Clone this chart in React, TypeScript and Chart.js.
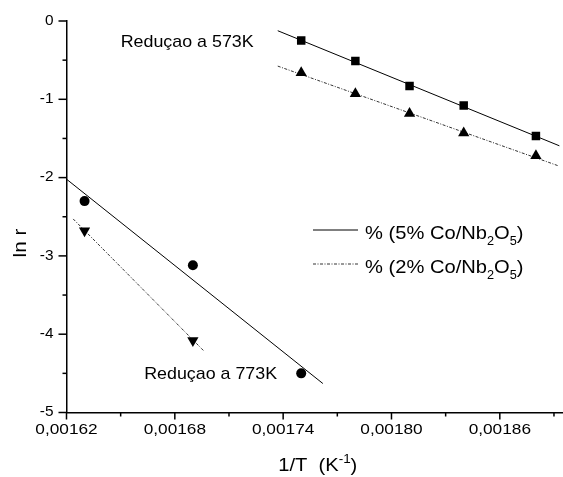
import React, { useEffect, useRef } from 'react';
import { Chart, registerables } from 'chart.js';
Chart.register(...registerables);

// ---- data ----
const invT573 = [0.00175, 0.00178, 0.00181, 0.00184, 0.00188];
const lnR573Co5 = [-0.25, -0.51, -0.83, -1.08, -1.47];
const lnR573Co2 = [-0.66, -0.93, -1.18, -1.43, -1.72];

const invT773Co5 = [0.00163, 0.00169, 0.00175];
const lnR773Co5 = [-2.3, -3.12, -4.5];
const invT773Co2 = [0.00163, 0.00169];
const lnR773Co2 = [-2.68, -4.08];

// linear fit lines (end points)
const fit573Co5X = [0.001737, 0.001893];
const fit573Co5Y = [-0.124, -1.594];
const fit573Co2X = [0.001737, 0.001892];
const fit573Co2Y = [-0.576, -1.846];
const fit773Co5X = [0.00162, 0.001762];
const fit773Co5Y = [-2.02, -4.63];
const fit773Co2X = [0.0016237, 0.001696];
const fit773Co2Y = [-2.528, -4.212];

// axes
const xMin = 0.00162;
const xMax = 0.001895;
const yMin = -5;
const yMax = 0;
const xMajorTicks = [0.00162, 0.00168, 0.00174, 0.0018, 0.00186];
const xTickLabels = ['0,00162', '0,00168', '0,00174', '0,00180', '0,00186'];
const xMinorTicks = [0.00165, 0.00171, 0.00177, 0.00183, 0.00189];
const yMajorTicks = [0, -1, -2, -3, -4, -5];
const yTickLabels = ['0', '-1', '-2', '-3', '-4', '-5'];
const yMinorTicks = [-0.5, -1.5, -2.5, -3.5, -4.5];

// annotations
const note573 = { text: 'Reduçao a 573K', x: 0.00165, y: -0.338 };
const note773 = { text: 'Reduçao a 773K', x: 0.001663, y: -4.578 };
const legendItems = [
  { pre: '% (5% Co/Nb', dash: [] as number[] },
  { pre: '% (2% Co/Nb', dash: [3, 1.5, 1, 1.5] },
];

const FONT = '"Liberation Sans", Arial, Helvetica, sans-serif';
const DOTTED = [3, 1.5, 1, 1.5];
const pts = (xs: number[], ys: number[]) => xs.map((x, i) => ({ x, y: ys[i] }));

type Seg = { t: string; sub?: boolean; sup?: boolean };

function drawRich(
  ctx: CanvasRenderingContext2D,
  segs: Seg[],
  x: number,
  y: number,
  size: number,
  sx: number,
  align: 'left' | 'center' = 'left'
) {
  const small = Math.round(size * 0.65);
  const widths = segs.map((s) => {
    ctx.font = `${s.sub || s.sup ? small : size}px ${FONT}`;
    return ctx.measureText(s.t).width * sx;
  });
  const total = widths.reduce((a, b) => a + b, 0);
  let cx = align === 'center' ? x - total / 2 : x;
  segs.forEach((s, i) => {
    ctx.save();
    ctx.font = `${s.sub || s.sup ? small : size}px ${FONT}`;
    ctx.textAlign = 'left';
    ctx.textBaseline = 'alphabetic';
    const dy = s.sub ? size * 0.3 : s.sup ? -size * 0.42 : 0;
    ctx.translate(cx, y + dy);
    ctx.scale(sx, 1);
    ctx.fillStyle = '#000';
    ctx.fillText(s.t, 0, 0);
    ctx.restore();
    cx += widths[i];
  });
}

function drawText(
  ctx: CanvasRenderingContext2D,
  s: string,
  x: number,
  y: number,
  size: number,
  sx: number,
  align: CanvasTextAlign,
  baseline: CanvasTextBaseline
) {
  ctx.save();
  ctx.font = `${size}px ${FONT}`;
  ctx.textAlign = align;
  ctx.textBaseline = baseline;
  ctx.fillStyle = '#000';
  ctx.translate(x, y);
  ctx.scale(sx, 1);
  ctx.fillText(s, 0, 0);
  ctx.restore();
}

const decorPlugin = {
  id: 'decor',
  afterDraw(chart: any) {
    const ctx: CanvasRenderingContext2D = chart.ctx;
    const xs = chart.scales.x;
    const ys = chart.scales.y;
    const area = chart.chartArea;
    ctx.save();
    ctx.strokeStyle = '#000';
    ctx.lineWidth = 1.5;
    const tick = (x1: number, y1: number, x2: number, y2: number) => {
      ctx.beginPath();
      ctx.moveTo(x1, y1);
      ctx.lineTo(x2, y2);
      ctx.stroke();
    };
    xMajorTicks.forEach((v, i) => {
      const px = xs.getPixelForValue(v);
      tick(px, area.bottom, px, area.bottom + 7);
      drawText(ctx, xTickLabels[i], px, area.bottom + 10, 15, 1.15, 'center', 'top');
    });
    xMinorTicks.forEach((v) => {
      const px = xs.getPixelForValue(v);
      tick(px, area.bottom, px, area.bottom + 4);
    });
    yMajorTicks.forEach((v, i) => {
      const py = ys.getPixelForValue(v);
      tick(area.left, py, area.left - 8, py);
      drawText(ctx, yTickLabels[i], area.left - 13, py, 14, 1.1, 'right', 'middle');
    });
    yMinorTicks.forEach((v) => {
      const py = ys.getPixelForValue(v);
      tick(area.left, py, area.left - 4, py);
    });

    // axis titles
    drawRich(
      ctx,
      [{ t: '1/T  (K' }, { t: '-1', sup: true }, { t: ')' }],
      (area.left + area.right) / 2 + 3,
      471,
      18,
      1.12,
      'center'
    );
    ctx.save();
    ctx.translate(26, 243);
    ctx.rotate(-Math.PI / 2);
    drawText(ctx, 'ln r', 0, 0, 18, 1.15, 'center', 'alphabetic');
    ctx.restore();

    // annotations
    drawText(ctx, note573.text, xs.getPixelForValue(note573.x), ys.getPixelForValue(note573.y), 17, 1.05, 'left', 'alphabetic');
    drawText(ctx, note773.text, xs.getPixelForValue(note773.x), ys.getPixelForValue(note773.y), 17, 1.05, 'left', 'alphabetic');

    // legend
    const lx = 313;
    const ly = [230, 264];
    legendItems.forEach((it, i) => {
      ctx.save();
      ctx.lineWidth = 1;
      ctx.strokeStyle = i === 0 ? '#000' : '#333';
      ctx.setLineDash(it.dash);
      ctx.beginPath();
      ctx.moveTo(lx, ly[i]);
      ctx.lineTo(lx + 45, ly[i]);
      ctx.stroke();
      ctx.restore();
      drawRich(
        ctx,
        [{ t: it.pre }, { t: '2', sub: true }, { t: 'O' }, { t: '5', sub: true }, { t: ')' }],
        lx + 52,
        ly[i] + 9,
        19,
        1.06
      );
    });
    ctx.restore();
  },
};

export default function App() {
  const ref = useRef<HTMLCanvasElement | null>(null);
  useEffect(() => {
    if (!ref.current) return;
    const lineDs = (xs: number[], ys: number[], dash: number[], color: string) => ({
      type: 'line' as const,
      data: pts(xs, ys),
      showLine: true,
      borderColor: color,
      borderWidth: 1,
      borderDash: dash,
      pointRadius: 0,
      fill: false,
      order: 2,
    });
    const markDs = (xs: number[], ys: number[], style: string, r: number, rot = 0) => ({
      type: 'scatter' as const,
      data: pts(xs, ys),
      showLine: false,
      pointStyle: style,
      pointRadius: r,
      pointRotation: rot,
      backgroundColor: '#000',
      borderColor: '#000',
      borderWidth: 0,
      order: 1,
    });
    const chart = new Chart(ref.current, {
      type: 'scatter',
      data: {
        datasets: [
          lineDs(fit573Co5X, fit573Co5Y, [], '#000'),
          lineDs(fit573Co2X, fit573Co2Y, DOTTED, '#333'),
          lineDs(fit773Co5X, fit773Co5Y, [], '#000'),
          lineDs(fit773Co2X, fit773Co2Y, DOTTED, '#333'),
          markDs(invT573, lnR573Co5, 'rect', 6),
          markDs(invT573, lnR573Co2, 'triangle', 6.5),
          markDs(invT773Co5, lnR773Co5, 'circle', 5),
          markDs(invT773Co2, lnR773Co2, 'triangle', 6.5, 180),
        ] as any,
      },
      options: {
        animation: false,
        responsive: true,
        maintainAspectRatio: false,
        layout: { autoPadding: false, padding: { top: 21, right: 0, left: 0, bottom: 0 } },
        plugins: { legend: { display: false }, tooltip: { enabled: false } },
        scales: {
          x: {
            type: 'linear',
            min: xMin,
            max: xMax,
            ticks: { display: false },
            grid: { display: false },
            border: { display: true, color: '#000', width: 1.5 },
            afterFit: (s: any) => {
              s.height = 64.5;
            },
          },
          y: {
            type: 'linear',
            min: yMin,
            max: yMax,
            ticks: { display: false },
            grid: { display: false },
            border: { display: true, color: '#000', width: 1.5 },
            afterFit: (s: any) => {
              s.width = 66.5;
            },
          },
        },
      },
      plugins: [decorPlugin],
    });
    return () => chart.destroy();
  }, []);
  return (
    <div style={{ position: 'absolute', left: 0, top: 0, width: 563, height: 477, background: '#fff' }}>
      <canvas ref={ref} />
    </div>
  );
}
